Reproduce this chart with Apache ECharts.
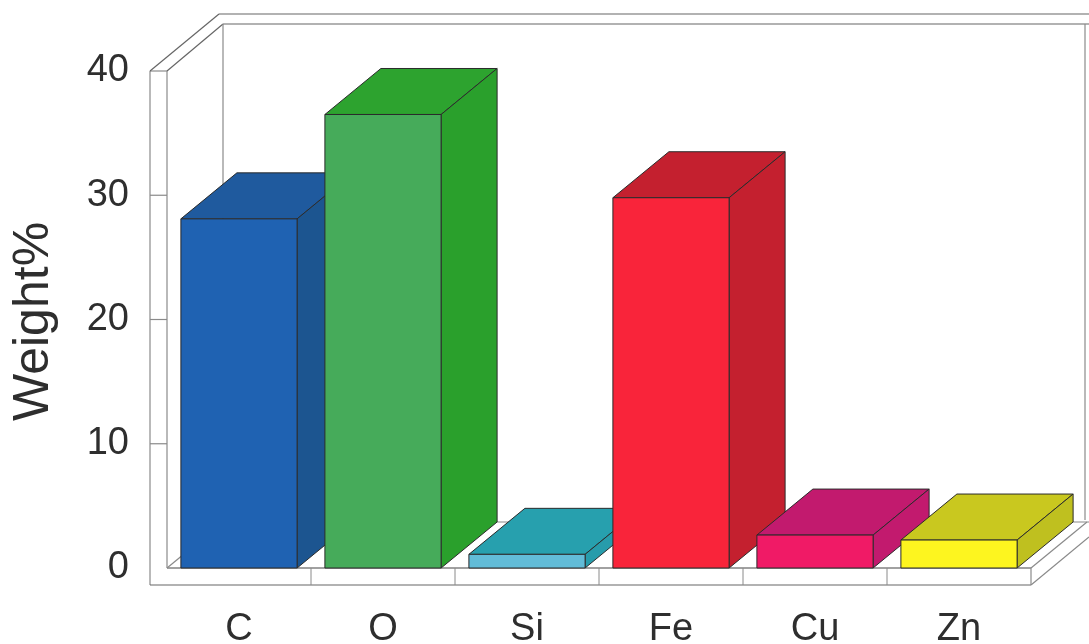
<!DOCTYPE html>
<html><head><meta charset="utf-8">
<style>html,body{margin:0;padding:0;background:#fff}#c{width:1089px;height:644px}</style>
<script src="https://cdn.jsdelivr.net/npm/echarts@6/dist/echarts.min.js"></script>
</head><body><div id="c"></div>
<script>
const categories = ['C','O','Si','Fe','Cu','Zn'];
const weights = [28.1,36.5,1.1,29.8,2.65,2.25];
const frontColors = ['#1f62b2','#46ab5a','#62bcd8','#f9243a','#f01a66','#fdf51f'];
const topColors = ['#1f5a9e','#2da32f','#27a0ae','#c4202f','#c21a6e','#c9c81f'];
const sideColors = ['#1c5590','#2aa02c','#279cab','#c4202f','#c21a6e','#bfc01f'];
const yTicks = [0,10,20,30,40];
const DX = 56, DY = -46;
const EDGE = '#2b2b2b', FRAME = '#8a8a8a';

function poly(pts, fill, stroke, w){
  return {type:'polygon',shape:{points:pts},style:{fill:fill||'none',stroke:stroke,lineWidth:w||1}};
}
function line(a,b,w,c){
  return {type:'line',shape:{x1:a[0],y1:a[1],x2:b[0],y2:b[1]},style:{stroke:c||FRAME,lineWidth:w||1.2,fill:null}};
}
function frameItem(params, api){
  const x0 = params.coordSys.x, x1 = x0+params.coordSys.width;
  const y0 = params.coordSys.y+params.coordSys.height, yT = params.coordSys.y;
  const P = 17, PB = 17, R = 1085;
  const children = [
    line([x0-P,yT],[x0-P,y0+PB],1.2),
    line([x0,yT],[x0,y0],1.2),
    line([x0-P,yT],[x0,yT],1.2),
    line([x0-P,yT],[x0-P+69,yT-57],1.2,'#666'),
    line([x0,yT],[x0+DX,yT-47],1.2,'#666'),
    line([x0-P+69,yT-57],[1089,yT-57],1.2,'#666'),
    line([x0+DX,yT-47],[1089,yT-47],1.2,'#666'),
    line([x0+DX,yT-47],[x0+DX,y0+DY],1.2),
    line([R,yT-47],[R,y0+DY-2],1.2),
    line([x0-P,y0+PB],[x1,y0+PB],1.2,'#666'),
    line([x0,y0],[x1,y0],1.2,'#444'),
    line([x1,y0],[x1,y0+PB],1.2),
    line([x1,y0],[x1+DX,y0+DY],1.2),
    line([x1,y0+PB],[1089,y0+PB-48],1.2),
    line([x0,y0],[x0+DX,y0+DY],1.2),
    line([x0+DX,y0+DY],[1089,y0+DY],1.2)
  ];
  yTicks.slice(1,-1).forEach(v=>{
    const p = api.coord([0,v]);
    children.push(line([x0-P,p[1]],[x0,p[1]],1.2));
  });
  for(let i=1;i<categories.length;i++){
    const x = x0+(x1-x0)*i/categories.length;
    children.push(line([x,y0],[x,y0+PB],1));
  }
  return {type:'group',children};
}
function barItem(params, api){
  const i = api.value(0), v = api.value(1);
  const c = api.coord([i,v]), b = api.coord([i,0]);
  const w = api.size([1,0])[0]*0.807;
  const L = c[0]-w/2, R = c[0]+w/2, T = c[1], B = b[1];
  return {type:'group',children:[
    poly([[L,T],[R,T],[R+DX,T+DY],[L+DX,T+DY]],topColors[i],EDGE),
    poly([[R,T],[R+DX,T+DY],[R+DX,B+DY],[R,B]],sideColors[i],EDGE),
    poly([[L,T],[R,T],[R,B],[L,B]],frontColors[i],EDGE)
  ]};
}
const chart = echarts.init(document.getElementById('c'),null,{renderer:'canvas'});
chart.setOption({
  animation:false,
  backgroundColor:'#fff',
  grid:{left:167,top:71,width:864,height:497,containLabel:false,outerBoundsMode:'none'},
  xAxis:{type:'category',data:categories,
    axisLine:{show:false},axisTick:{show:false},
    axisLabel:{margin:43,fontFamily:'Liberation Sans',fontSize:38,color:'#2e2e2e'}},
  yAxis:{type:'value',min:0,max:40,interval:10,
    name:'Weight%',nameLocation:'middle',nameGap:108,nameRotate:90,
    nameTextStyle:{fontFamily:'Liberation Sans',fontSize:50,color:'#2e2e2e',padding:[0,4,0,0]},
    axisLine:{show:false},axisTick:{show:false},splitLine:{show:false},
    axisLabel:{margin:38,fontFamily:'Liberation Sans',fontSize:38,color:'#2e2e2e',padding:[6,0,0,0],alignMinLabel:'right',verticalAlignMinLabel:'middle',verticalAlignMaxLabel:'middle'}},
  series:[
    {type:'custom',coordinateSystem:'cartesian2d',silent:true,clip:false,z:1,
     data:[[0,0]],encode:{x:0,y:1},renderItem:frameItem},
    {type:'custom',coordinateSystem:'cartesian2d',silent:true,clip:false,z:2,
     data:weights.map((v,i)=>[i,v]),encode:{x:0,y:1},renderItem:barItem}
  ]
});
</script></body></html>
